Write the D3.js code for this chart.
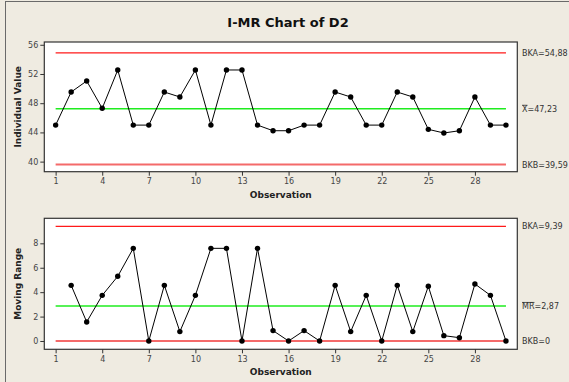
<!DOCTYPE html>
<html><head><meta charset="utf-8">
<script src="https://cdn.jsdelivr.net/npm/d3@7"></script>
<style>
  body { margin: 0; background: #EFEBE1; }
  svg { display: block; }
</style>
</head><body>
<svg id="chart" width="569" height="382"></svg>
<script>
// Observations and measured values
const observations = d3.range(1, 31);
const individualValues = [45.0, 49.53, 51.04, 47.3, 52.55, 45.0, 45.0, 49.53, 48.85, 52.55,
                          45.0, 52.55, 52.55, 45.0, 44.23, 44.23, 45.0, 45.0, 49.53, 48.85,
                          45.0, 45.0, 49.53, 48.85, 44.42, 43.92, 44.23, 48.85, 45.0, 45.0];
const movingRanges = [null, 4.56, 1.56, 3.74, 5.3, 7.59, 0, 4.56, 0.77, 3.74,
                      7.59, 7.59, 0, 7.59, 0.85, 0, 0.85, 0, 4.56, 0.77,
                      3.74, 0, 4.56, 0.77, 4.48, 0.44, 0.27, 4.67, 3.74, 0];

// Tick labels
const xTicks = [1, 4, 7, 10, 13, 16, 19, 22, 25, 28];
const individualTicks = [40, 44, 48, 52, 56];
const rangeTicks = [0, 2, 4, 6, 8];

// Control limits: upper, centre, lower
const individualLimits = [54.88, 47.23, 39.59];
const rangeLimits = [9.39, 2.87, 0];
const individualLimitText = [["", "BKA=54,88"], ["X", "=47,23"], ["", "BKB=39,59"]];
const rangeLimitText = [["", "BKA=9,39"], ["MR", "=2,87"], ["", "BKB=0"]];

const svg = d3.select("#chart");
const FONT = "DejaVu Sans, Verdana, sans-serif";

svg.append("rect").attr("width", 569).attr("height", 382).attr("fill", "#EFEBE1");
svg.append("rect").attr("x", 5.5).attr("y", 1.5).attr("width", 700).attr("height", 500)
  .attr("fill", "none").attr("stroke", "#6a6a6a").attr("stroke-width", 1);

svg.append("text").attr("x", 288).attr("y", 27).attr("text-anchor", "middle")
  .attr("font-family", FONT).attr("font-weight", "bold").attr("font-size", 13)
  .attr("fill", "#111").text("I-MR Chart of D2");

const x = d3.scaleLinear().domain([0.27, 30.73]).range([44.3, 517.3]);

function panel(cfg) {
  const y = d3.scaleLinear().domain(cfg.domain).range([cfg.bottom, cfg.top]);
  const g = svg.append("g");

  g.append("rect").attr("x", x.range()[0]).attr("y", cfg.top)
    .attr("width", x.range()[1] - x.range()[0]).attr("height", cfg.bottom - cfg.top)
    .attr("fill", "#fff");

  // Control limit lines
  const styles = [
    { stroke: "#ff1a1a", width: 1.2 },
    { stroke: "#1fec1f", width: 1.4 },
    { stroke: "#f46a6a", width: 2 }
  ];
  cfg.limits.forEach((v, i) => {
    g.append("line")
      .attr("x1", x(1)).attr("x2", x(30))
      .attr("y1", y(v)).attr("y2", y(v))
      .attr("stroke", styles[i].stroke).attr("stroke-width", styles[i].width);
  });

  // Series
  const pts = observations.map((o, i) => ({ o, v: cfg.values[i] })).filter(d => d.v !== null);
  g.append("path").datum(pts)
    .attr("fill", "none").attr("stroke", "#000").attr("stroke-width", 1)
    .attr("d", d3.line().x(d => x(d.o)).y(d => y(d.v)));
  g.selectAll("circle.pt").data(pts).join("circle")
    .attr("cx", d => x(d.o)).attr("cy", d => y(d.v)).attr("r", 2.7).attr("fill", "#000");

  // Frame
  g.append("rect").attr("x", x.range()[0]).attr("y", cfg.top)
    .attr("width", x.range()[1] - x.range()[0]).attr("height", cfg.bottom - cfg.top)
    .attr("fill", "none").attr("stroke", "#333").attr("stroke-width", 1.2);

  // Axes
  const ya = g.append("g").attr("transform", `translate(${x.range()[0]},0)`)
    .call(d3.axisLeft(y).tickValues(cfg.ticks).tickSize(4).tickPadding(2).tickSizeOuter(0));
  const xa = g.append("g").attr("transform", `translate(0,${cfg.bottom})`)
    .call(d3.axisBottom(x).tickValues(xTicks).tickSize(4).tickPadding(3).tickSizeOuter(0));
  [ya, xa].forEach(a => {
    a.select(".domain").remove();
    a.selectAll(".tick line").attr("stroke", "#333");
    a.selectAll(".tick text").attr("font-family", FONT).attr("font-size", 8).attr("fill", "#444");
  });

  // Axis titles
  g.append("text").attr("x", 280.8).attr("y", cfg.bottom + 26).attr("text-anchor", "middle")
    .attr("font-family", FONT).attr("font-weight", "bold").attr("font-size", 9).attr("fill", "#222")
    .text("Observation");
  g.append("text")
    .attr("transform", `translate(20.5,${(cfg.top + cfg.bottom) / 2}) rotate(-90)`)
    .attr("text-anchor", "middle")
    .attr("font-family", FONT).attr("font-weight", "bold").attr("font-size", 9).attr("fill", "#222")
    .text(cfg.title);

  // Limit labels
  cfg.limits.forEach((v, i) => {
    const t = g.append("text").attr("x", 522).attr("y", y(v) + 3)
      .attr("font-family", FONT).attr("font-size", 8).attr("fill", "#333");
    const [over, rest] = cfg.labels[i];
    if (over) t.append("tspan").style("text-decoration", "overline").text(over);
    t.append("tspan").text(rest);
  });
}

panel({ top: 42, bottom: 171.7, domain: [38.62, 56.38], ticks: individualTicks,
        values: individualValues, limits: individualLimits, labels: individualLimitText,
        title: "Individual Value" });
panel({ top: 218.3, bottom: 349.3, domain: [-0.68, 10.05], ticks: rangeTicks,
        values: movingRanges, limits: rangeLimits, labels: rangeLimitText,
        title: "Moving Range" });
</script>
</body></html>
